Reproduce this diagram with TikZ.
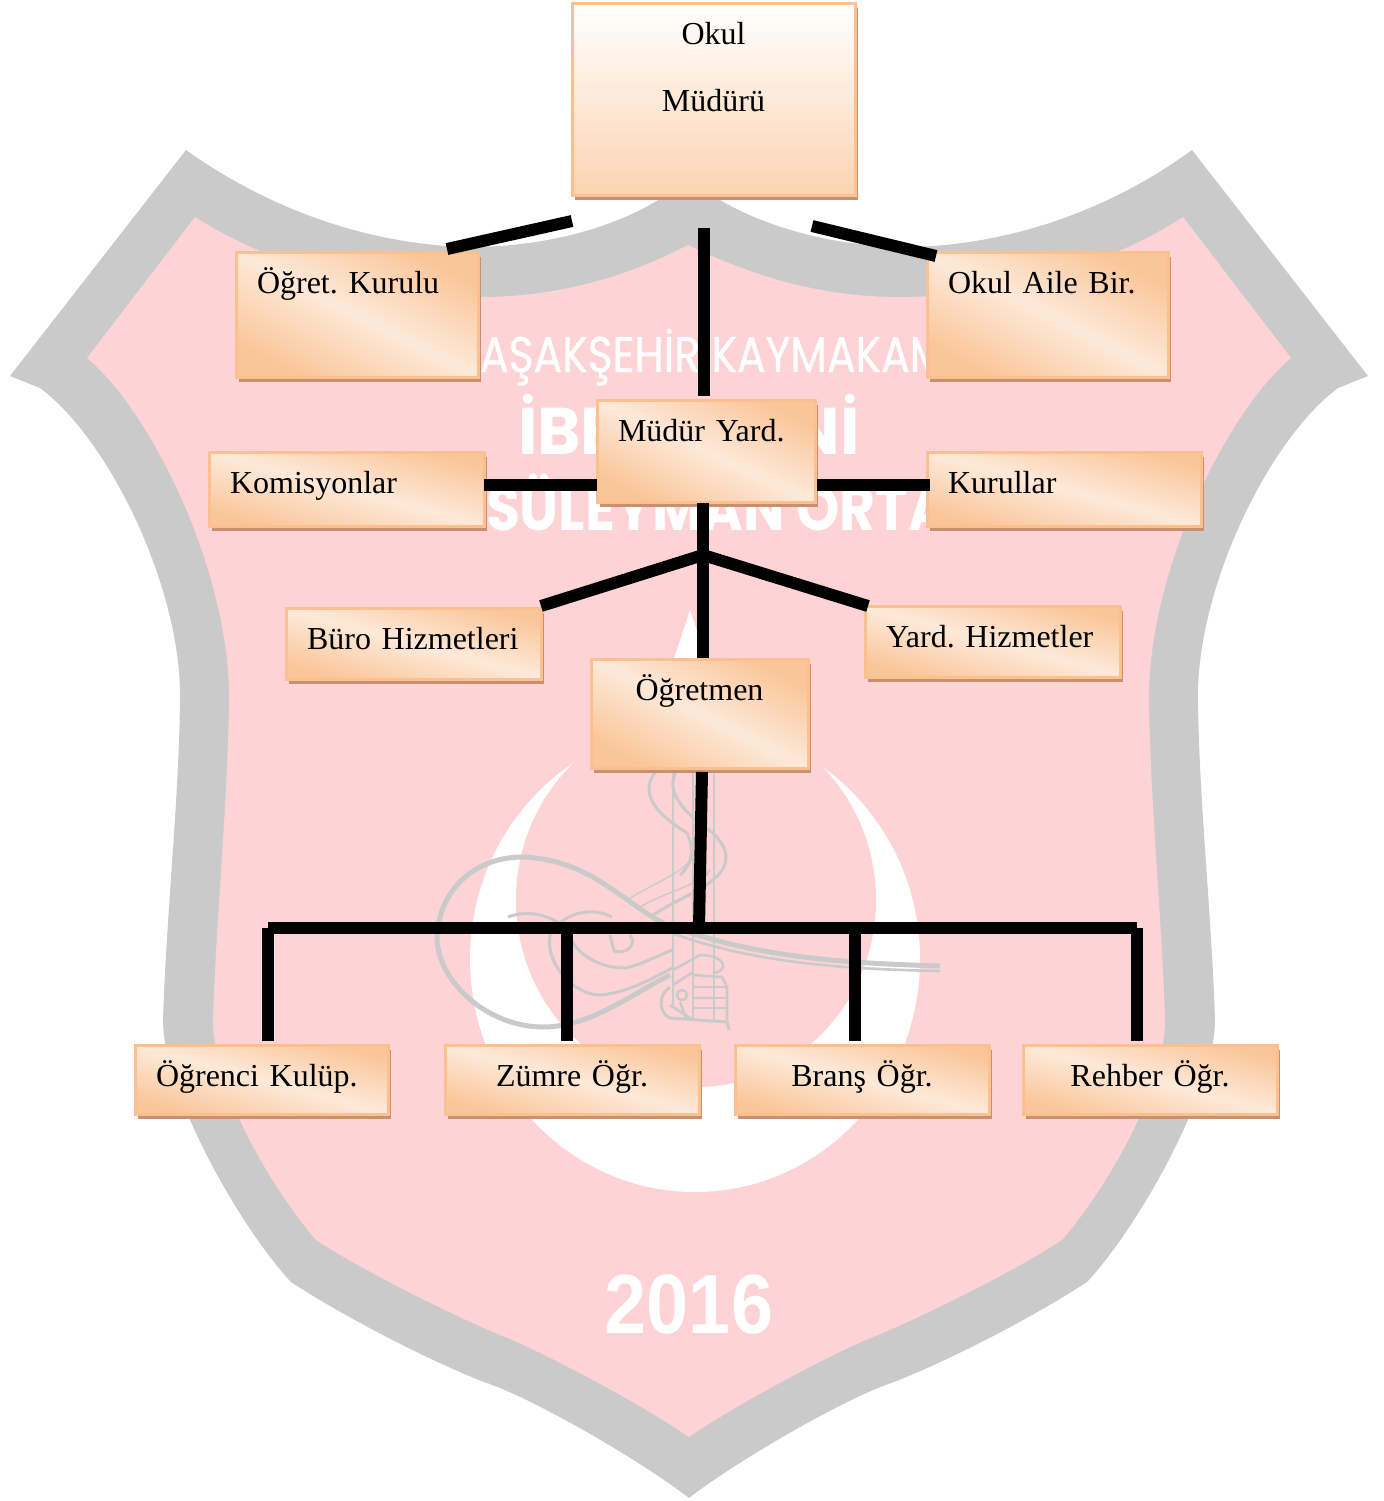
\documentclass[tikz,border=0pt]{standalone}
\usepackage{fontspec}
\setmainfont{Liberation Serif}
\newfontfamily\crestfont{Poppins}
\newfontfamily\crestmed[FakeBold=0.8]{Poppins}
\newfontfamily\yearfont{Liberation Sans}
\usetikzlibrary{shadows}

\definecolor{crestgray}{HTML}{CACACA}
\definecolor{crestpink}{HTML}{FED3D6}
\definecolor{orgedge}{HTML}{FAC090}
\definecolor{orgorange}{HTML}{FAC598}
\definecolor{orglight}{HTML}{FDE9D9}
\definecolor{orgdark}{HTML}{C9906F}

\tikzset{
  orgbox/.style 2 args={draw=orgedge, line width=1.5pt, inner ysep=0pt,
    inner xsep=10.5pt, outer sep=0pt, anchor=north west, text width=#1pt,
    text height=20.75pt, text depth=#2pt,
    drop shadow={shadow xshift=1.5pt, shadow yshift=-2.5pt,
      fill=orgdark, opacity=1},
    font=\frenchspacing\fontsize{16}{33.5}\selectfont},
  orgdiag/.style={left color=orgorange, right color=orgorange,
    middle color=orglight, shading angle=#1},
  orgdiag/.default=345,
  orgline/.style={line width=6pt, black},
  tughra/.style={draw=crestgray, line width=1.3pt},
  crestlabel/.style={text=white, inner sep=0pt, outer sep=0pt}
}

\begin{document}
\begin{tikzpicture}[x=0.5pt,y=-0.5pt]

\useasboundingbox (0,0) rectangle (1384,1501);
\newcommand\BARY{928}
\newcommand\DROPY{1041}

  %% crest
  \fill[crestgray] (186,150) .. controls (270,210) and (370,245) .. (470,247)
  .. controls (550,247) and (620,225) .. (663,197) -- (715,197)
  .. controls (760,225) and (830,247) .. (910,247)
  .. controls (1010,245) and (1110,210) .. (1192,150)
  -- (1368,376) -- (1338,388) .. controls (1268,440) and (1196,590) .. (1198,700)
  .. controls (1199,800) and (1212,920) .. (1215,1020)
  .. controls (1215,1090) and (1140,1225) .. (1087,1282)
  .. controls (1030,1319) and (950,1360) .. (894,1382)
  .. controls (845,1398) and (735,1462) .. (689,1498)
  .. controls (643,1462) and (533,1398) .. (484,1382)
  .. controls (428,1360) and (348,1319) .. (291,1282)
  .. controls (238,1225) and (163,1090) .. (163,1020)
  .. controls (166,920) and (179,800) .. (180,700)
  .. controls (182,590) and (110,440) .. (40,388) -- (10,376) -- cycle;
  \fill[crestpink] (195,217) .. controls (270,265) and (380,297) .. (480,297)
  .. controls (570,297) and (640,270) .. (688,245)
  .. controls (740,270) and (810,297) .. (900,297)
  .. controls (1000,297) and (1110,265) .. (1183,217)
  -- (1291,358) .. controls (1228,410) and (1148,570) .. (1149,700)
  .. controls (1150,800) and (1162,920) .. (1165,1020)
  .. controls (1165,1090) and (1105,1190) .. (1062,1240)
  .. controls (1010,1274) and (915,1320) .. (873,1337)
  .. controls (835,1352) and (735,1405) .. (689,1437)
  .. controls (643,1405) and (543,1352) .. (505,1337)
  .. controls (463,1320) and (368,1274) .. (316,1240)
  .. controls (273,1190) and (213,1090) .. (213,1020)
  .. controls (216,920) and (228,800) .. (229,700)
  .. controls (230,570) and (150,410) .. (87,358) -- cycle;

  %% crescent, star
  \fill[white] (695,959) ellipse [x radius=225, y radius=233];
  \fill[crestpink] (696,900) ellipse [x radius=180, y radius=187];
  \fill[white] (690,610) -- (706,658) -- (757,658) -- (716,688) -- (732,737)
  -- (690,707) -- (648,737) -- (664,688) -- (623,658) -- (674,658) -- cycle;

  %% tughra
  \draw[tughra, line width=2.5pt] (940,966) .. controls (840,963) and (750,957) .. (663,923)
  .. controls (620,900) and (590,860) .. (523,857)
  .. controls (470,857) and (437,895) .. (437,940)
  .. controls (440,985) and (490,1027) .. (543,1027)
  .. controls (590,1027) and (630,995) .. (670,975);
  \draw[tughra] (940,971) .. controls (840,969) and (750,963) .. (663,930);
  \draw[tughra, line width=1.5pt] (508,917) .. controls (530,908) and (558,918) .. (566,930)
  .. controls (575,955) and (600,968) .. (625,968)
  .. controls (640,965) and (660,955) .. (672,950);
  \draw[tughra, line width=1.5pt] (612,917) .. controls (590,905) and (560,915) .. (550,935)
  .. controls (545,965) and (575,995) .. (600,995)
  .. controls (625,993) and (650,980) .. (672,968);
  \draw[tughra, line width=1.5pt] (610,935) -- (614,951)
  .. controls (625,955) and (638,945) .. (630,935);
  \draw[tughra] (673,770) -- (673,1005);
  \draw[tughra] (693,770) -- (693,1020);
  \draw[tughra] (714,770) -- (714,1020);
  \draw[tughra, line width=1.5pt] (657,770) .. controls (640,790) and (650,810) .. (687,833)
  .. controls (695,850) and (692,865) .. (680,875);
  \draw[tughra, line width=1.5pt] (677,770) .. controls (665,790) and (680,810) .. (713,833)
  .. controls (730,850) and (730,865) .. (715,878)
  .. controls (700,892) and (675,900) .. (650,917);
  \draw[tughra, line width=.7pt] (627,900) .. controls (650,885) and (690,870) .. (693,855);
  \draw[tughra, line width=.7pt] (640,907) .. controls (665,892) and (700,885) .. (710,870);
  \draw[tughra, line width=1.5pt] (670,987) .. controls (658,995) and (658,1012) .. (670,1018)
  -- (727,1022) -- (729,1030);
  \draw[tughra] (700,955) .. controls (725,955) and (730,970) .. (714,973);
  \draw[tughra] (673,970) -- (700,955);
  \draw[tughra] (673,985) -- (693,972);
  \draw[tughra] (693,975) -- (722,977) -- (727,987) -- (727,1020);
  \draw[tughra] (693,987) -- (727,987);
  \draw[tughra] (693,998) -- (727,998);
  \draw[tughra] (693,1008) -- (727,1008);
  \draw[tughra] (682,995) circle (5);
  \draw[tughra] (670,1005) -- (693,1020);
  \draw[tughra] (680,1002) -- (686,1018);

  %% crest texts
  \node[crestlabel, anchor=base west, font=\crestmed\fontsize{25}{25}\selectfont]
  (kaymakam) at (480,372) {\scalebox{.85}[1]{AŞAKŞEHİR KAYMAKAM}};
  \node[crestlabel, anchor=base west, font=\crestfont\fontsize{33}{33}\selectfont\bfseries]
  (ibe) at (518,454) {İBE};
  \node[crestlabel, anchor=base east, font=\crestfont\fontsize{33}{33}\selectfont\bfseries]
  (ni) at (860,454) {Nİ};
  \node[crestlabel, anchor=base west, font=\crestfont\fontsize{31}{31}\selectfont\bfseries]
  (suleyman) at (486,530) {\scalebox{.89}[1]{SÜLEYMAN ORTA}};
  \node[crestlabel, anchor=base, font=\yearfont\fontsize{42}{42}\selectfont\bfseries]
  (year) at (689,1333) {\scalebox{.9}[1]{2016}};

  %% boxes
  \node[orgbox={120.5}{75.25}, top color=white, bottom color=orgorange!75!white, align=center]
  (mudur) at (572,3) {Okul\\Müdürü};
  \node[orgbox={100}{41.75}, orgdiag=333, align=left] (kurulu) at (236,252) {Öğret. Kurulu};
  \node[orgbox={99.5}{41.75}, orgdiag=333, align=left] (aile) at (927,252) {Okul Aile Bir.};
  \node[orgbox={88}{30.25}, orgdiag=335, align=left] (yard) at (597,400) {Müdür Yard.};
  \node[orgbox={116.5}{16.25}, orgdiag, align=left] (komisyon) at (209,452) {Komisyonlar};
  \node[orgbox={116}{16.25}, orgdiag, align=left] (kurullar) at (927,452) {Kurullar};
  \node[orgbox={106.5}{14.75}, orgdiag, align=left] (buro) at (286,608) {Büro Hizmetleri};
  \node[orgbox={106.5}{14.75}, orgdiag, align=left] (hizmet) at (865,606) {Yard. Hizmetler};
  \node[orgbox={87.5}{33.75}, orgdiag=333, align=center] (ogretmen) at (591,659) {Öğretmen};
  \node[orgbox={105.5}{13.75}, orgdiag, align=left] (kulup) at (135,1045) {Öğrenci Kulüp.};
  \node[orgbox={106}{13.75}, orgdiag, align=center] (zumre) at (445,1045) {Zümre Öğr.};
  \node[orgbox={106}{13.75}, orgdiag, align=center] (brans) at (735,1045) {Branş Öğr.};
  \node[orgbox={106}{13.75}, orgdiag, align=center] (rehber) at (1023,1045) {Rehber Öğr.};

  %% free ends
  \coordinate (kurulutop) at (447,249);
  \coordinate (mudurleft) at (572,221);
  \coordinate (mudurright) at (812,226);
  \coordinate (ailetop) at (936,256);
  \coordinate (muduralt) at (704,228);
  \coordinate (yardtop) at (704,396);
  \coordinate (yardalt) at (703,503);
  \coordinate (fork) at (703,555);
  \coordinate (buroend) at (541,606);
  \coordinate (hizmetend) at (868,606);
  \coordinate (ogretop) at (703,658);
  \coordinate (ogrealt) at (702,772);
  \coordinate (barmid) at (699,\BARY);
  \coordinate (barleft) at (268,\BARY);
  \coordinate (barright) at (1137,\BARY);

  %% lines
  \draw[orgline] (kurulutop) -- (mudurleft);
  \draw[orgline] (mudurright) -- (ailetop);
  \draw[orgline] (muduralt) -- (yardtop);
  \draw[orgline] (komisyon.east |- 0,485) -- (yard.west |- 0,485);
  \draw[orgline] (817,485) -- (930,485);
  \draw[orgline] (yardalt) -- (fork) -- (ogretop);
  \draw[orgline] (fork) -- (buroend);
  \draw[orgline] (fork) -- (hizmetend);
  \draw[orgline] (ogrealt) -- (barmid);
  \draw[orgline] (barleft) -- (barright);
  \draw[orgline] (barleft) -- (268,\DROPY);
  \draw[orgline] (567,\BARY) -- (567,\DROPY);
  \draw[orgline] (855,\BARY) -- (855,\DROPY);
  \draw[orgline] (barright) -- (1137,\DROPY);

\end{tikzpicture}
\end{document}
